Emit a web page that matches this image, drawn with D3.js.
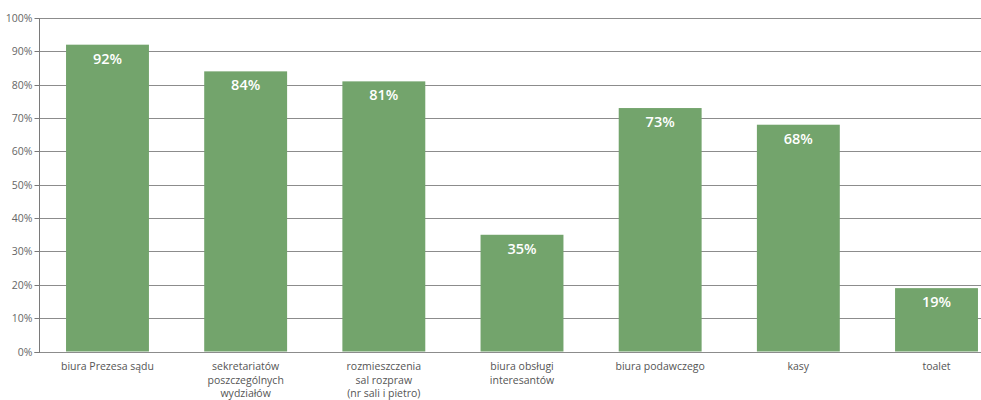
<!DOCTYPE html>
<html>
<head>
<meta charset="utf-8">
<script src="https://cdn.jsdelivr.net/npm/d3@7/dist/d3.min.js"></script>
<style>
  html, body { margin: 0; padding: 0; background: #fff; }
  svg { display: block; }
  text { font-family: "Open Sans", "Noto Sans", sans-serif; }
</style>
</head>
<body>
<svg id="chart" width="981" height="400"></svg>
<script>
// Categories (multi-line labels split on "\n") and percentage values
const categories = [
  "biura Prezesa sądu",
  "sekretariatów\nposzczególnych\nwydziałów",
  "rozmieszczenia\nsal rozpraw\n(nr sali i pietro)",
  "biura obsługi\ninteresantów",
  "biura podawczego",
  "kasy",
  "toalet"
];
const values = [92, 84, 81, 35, 73, 68, 19];
const yTicks = [0, 10, 20, 30, 40, 50, 60, 70, 80, 90, 100];

const svg = d3.select("#chart");
const margin = { left: 39, top: 18 };
const plotBottom = 351.5;
const bandStart = 38.4, bandEnd = 1005.6; // last band runs past the right edge

const x = d3.scaleBand()
  .domain(categories)
  .range([bandStart, bandEnd])
  .paddingInner(0.4)
  .paddingOuter(0.2);

const y = d3.scaleLinear()
  .domain([0, 100])
  .range([plotBottom, margin.top]);

// Horizontal gridlines
svg.append("g")
  .selectAll("line")
  .data(yTicks)
  .join("line")
  .attr("x1", margin.left)
  .attr("x2", 981)
  .attr("y1", d => Math.round(y(d)) + 0.5)
  .attr("y2", d => Math.round(y(d)) + 0.5)
  .attr("stroke", "#8c8c8c")
  .attr("stroke-width", 1);

// Y axis with percent labels
const yAxis = d3.axisLeft(y)
  .tickValues(yTicks)
  .tickSize(5)
  .tickPadding(2)
  .tickFormat(d => d + "%");

const gy = svg.append("g")
  .attr("transform", `translate(${margin.left + 0.5},0)`)
  .call(yAxis);
gy.select(".domain").attr("stroke", "#7a7a7a").attr("d", `M-5,${Math.round(y(0)) + 0.5}H0V${Math.round(y(100)) + 0.5}`);
gy.selectAll(".tick line").attr("stroke", "#7a7a7a");
gy.selectAll(".tick").attr("transform", d => `translate(0,${Math.round(y(d)) + 0.5})`);
gy.selectAll(".tick text")
  .attr("fill", "#666")
  .attr("font-size", 10.5)
  .attr("font-family", "'Open Sans', sans-serif");

// Bars
svg.append("g")
  .selectAll("rect")
  .data(values)
  .join("rect")
  .attr("x", (d, i) => x(categories[i]))
  .attr("y", d => y(d))
  .attr("width", x.bandwidth())
  .attr("height", d => plotBottom - y(d))
  .attr("fill", "#73a46c");

// Value labels inside bars
svg.append("g")
  .selectAll("text")
  .data(values)
  .join("text")
  .attr("x", (d, i) => x(categories[i]) + x.bandwidth() / 2)
  .attr("y", d => y(d) + 19)
  .attr("text-anchor", "middle")
  .attr("fill", "#fff")
  .attr("font-weight", 600)
  .attr("font-size", 14.5)
  .text(d => d + "%");

// Category labels below the axis
const catG = svg.append("g");
categories.forEach(c => {
  const t = catG.append("text")
    .attr("x", x(c) + x.bandwidth() / 2)
    .attr("y", 370)
    .attr("text-anchor", "middle")
    .attr("fill", "#555")
    .attr("font-size", 10.5);
  c.split("\n").forEach((line, j) => {
    t.append("tspan")
      .attr("x", x(c) + x.bandwidth() / 2)
      .attr("dy", j === 0 ? 0 : 13.5)
      .text(line);
  });
});
</script>
</body>
</html>
